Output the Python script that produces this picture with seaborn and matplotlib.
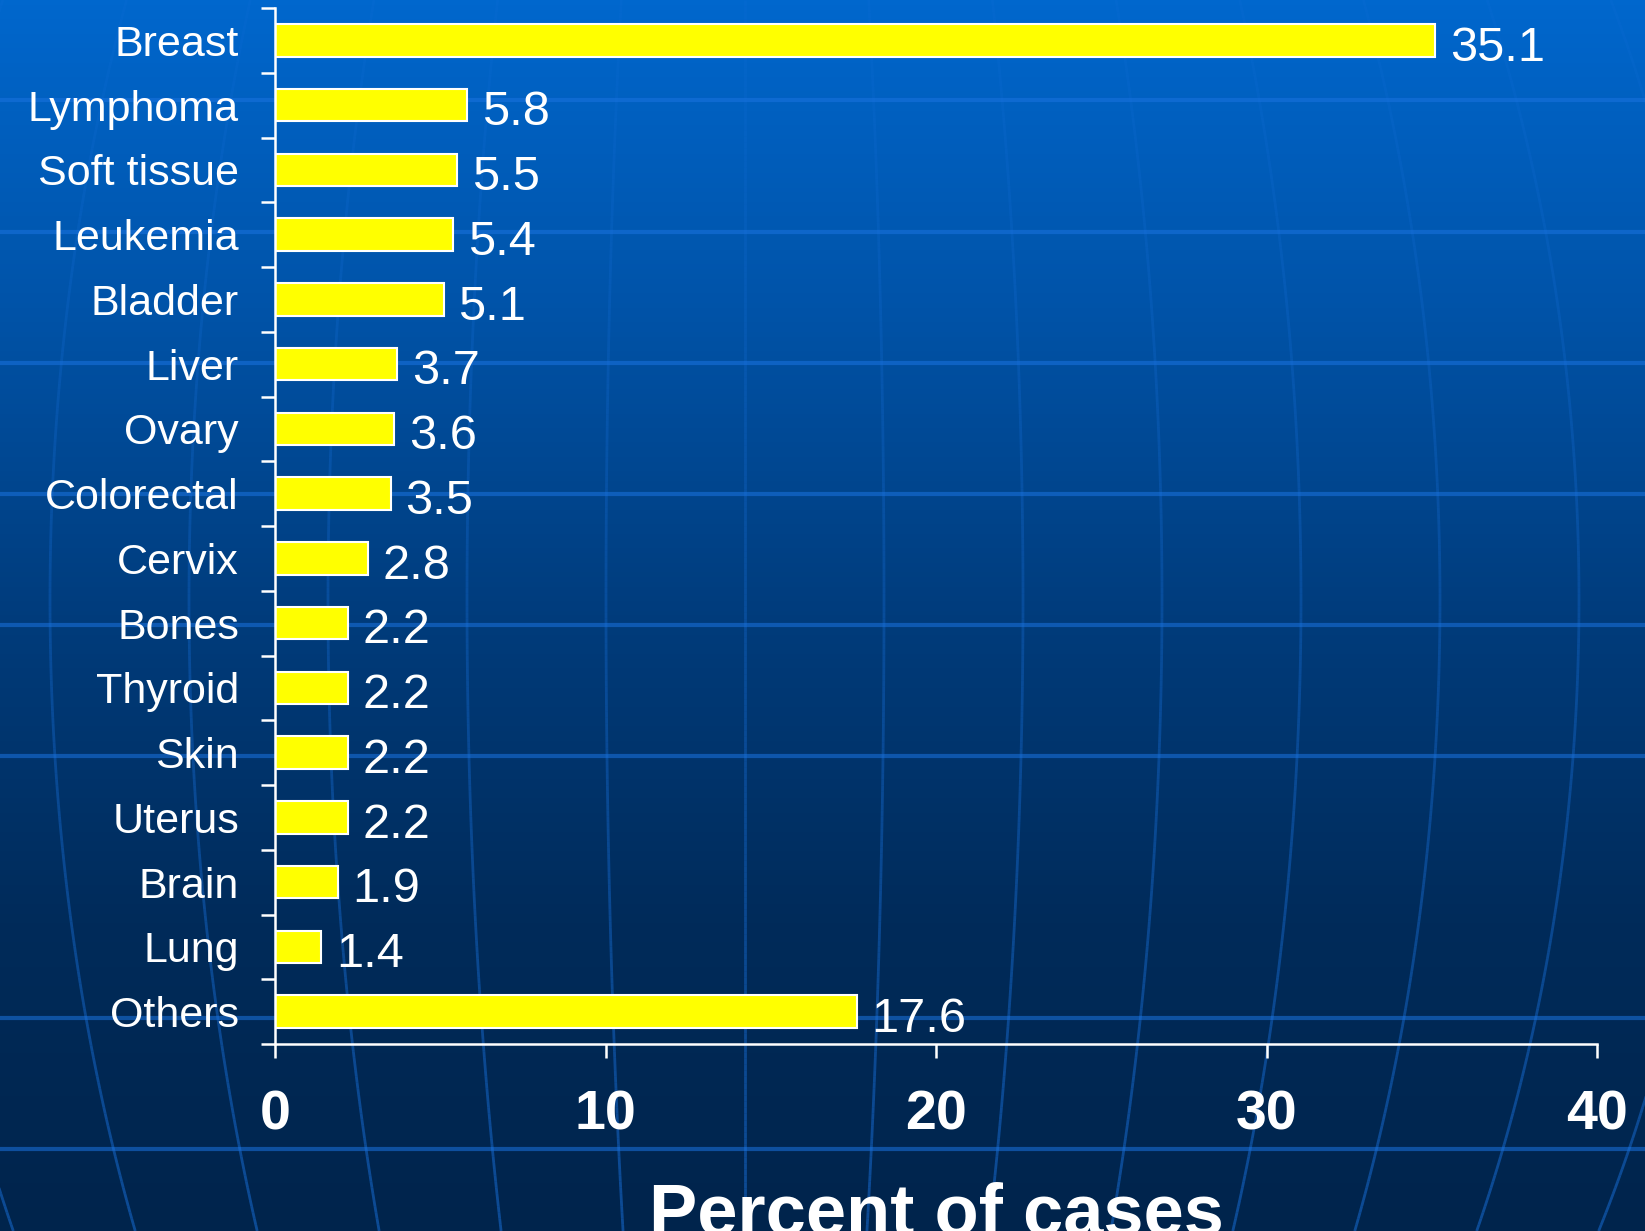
import numpy as np
import pandas as pd
import matplotlib
matplotlib.use("Agg")
import matplotlib.pyplot as plt
from matplotlib.colors import LinearSegmentedColormap
from matplotlib.collections import LineCollection
import seaborn as sns

# Data
categories = ["Breast", "Lymphoma", "Soft tissue", "Leukemia", "Bladder", "Liver",
              "Ovary", "Colorectal", "Cervix", "Bones", "Thyroid", "Skin",
              "Uterus", "Brain", "Lung", "Others"]
percent = [35.1, 5.8, 5.5, 5.4, 5.1, 3.7, 3.6, 3.5, 2.8, 2.2, 2.2, 2.2, 2.2, 1.9, 1.4, 17.6]
x_ticks = [0, 10, 20, 30, 40]

sns.set_theme(style="white")
plt.rcParams['font.family'] = ['Liberation Sans', 'DejaVu Sans']

W, H = 1645, 1231
fig = plt.figure(figsize=(W / 100, H / 100), dpi=100)

# --- slide background: blue gradient with a faint globe grid ---
bg = fig.add_axes([0, 0, 1, 1], zorder=-1)
grad_cmap = LinearSegmentedColormap.from_list(
    "slide", ["#0067cd", "#0053a8", "#003c7c", "#002b5a", "#00244c"])
bg.imshow(np.linspace(0, 1, 256).reshape(-1, 1), cmap=grad_cmap, aspect="auto",
          extent=[0, W, H, 0])
line_col = (0.10, 0.45, 0.88)
for yy in [100, 232, 363, 494, 625, 756, 1018, 1149]:
    bg.plot([0, W], [yy, yy], color=line_col, alpha=0.55, lw=3)

# meridians: nearly vertical, bulging slightly around the middle, fading upward
ys = np.linspace(0, H, 200)
squeeze = np.sqrt(1 - ((ys - 600) / 1315) ** 2)
fade = 0.12 + 0.38 * (ys[:-1] / H)
seg_cols = [(*line_col, a) for a in fade]
for k in range(-6, 8):
    xs = 745 + 139 * k * squeeze
    pts = np.column_stack([xs, ys]).reshape(-1, 1, 2)
    segs = np.concatenate([pts[:-1], pts[1:]], axis=1)
    bg.add_collection(LineCollection(segs, colors=seg_cols, linewidths=2))
bg.set_xlim(0, W)
bg.set_ylim(H, 0)
bg.axis("off")

# --- bar chart ---
ax = fig.add_axes([275 / W, 187 / H, (1597 - 275) / W, (1044 - 8) / H])
ax.patch.set_alpha(0)

df = pd.DataFrame({"Site": categories, "Percent": percent})
sns.barplot(data=df, x="Percent", y="Site", orient="h", color="#ffff00",
            saturation=1, edgecolor="white", linewidth=1.5, width=0.5, ax=ax)

for i, v in enumerate(percent):
    ax.text(v + 0.45, i + 0.12, f"{v}", color="white", fontsize=35,
            va="center", ha="left")

ax.set_xlim(0, 40)
ax.set_ylim(len(categories) - 0.5, -0.5)
ax.set_xticks(x_ticks)
ax.set_xticklabels([str(t) for t in x_ticks], fontsize=40, fontweight="bold", color="white")
ax.tick_params(axis="x", direction="out", length=10, width=1.8, color="white", pad=23,
               bottom=True)
ax.tick_params(axis="y", which="major", length=0, pad=26, labelsize=31, labelcolor="white")
ax.set_yticks(np.arange(-0.5, len(categories), 1), minor=True)
ax.tick_params(axis="y", which="minor", direction="out", length=10, width=1.8,
               color="white", left=True)

for side in ["top", "right"]:
    ax.spines[side].set_visible(False)
for side in ["left", "bottom"]:
    ax.spines[side].set_color("white")
    ax.spines[side].set_linewidth(1.8)

ax.set_ylabel("")
ax.set_xlabel("Percent of cases", fontsize=52, fontweight="bold", color="white")
ax.xaxis.set_label_coords(0.5, -0.133)

fig.savefig("out.png", dpi=100)
